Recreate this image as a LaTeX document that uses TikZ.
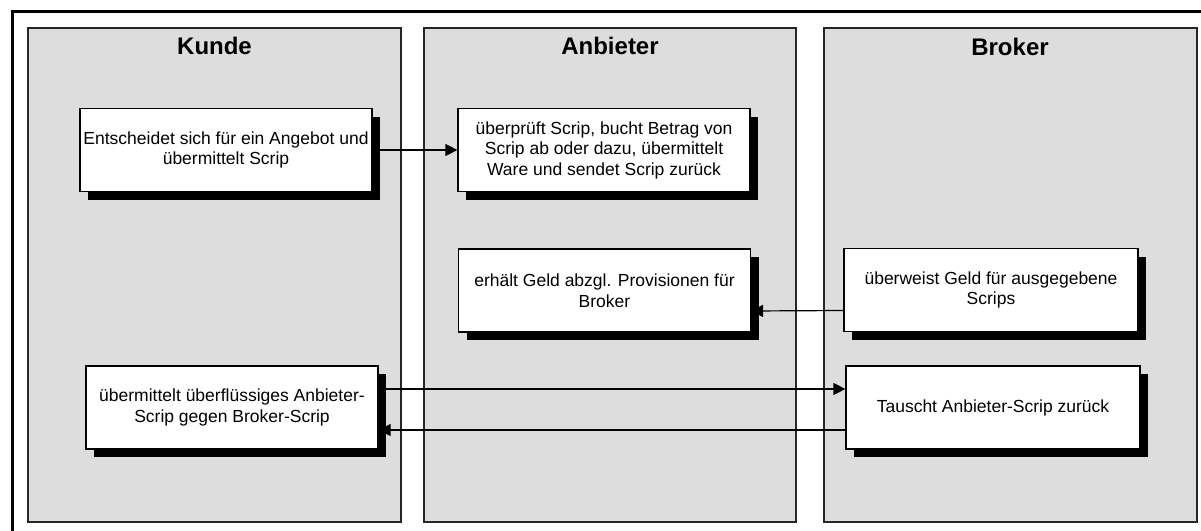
\documentclass[tikz,border=0pt]{standalone}
\usepackage{fontspec}
\setmainfont{Liberation Sans}
\usetikzlibrary{arrows.meta,shadows}
\definecolor{lanegray}{HTML}{DDDDDD}
\pgfdeclarelayer{lanes}
\pgfdeclarelayer{flows}
\pgfsetlayers{lanes,flows,main}
\begin{document}
\begin{tikzpicture}[x=1pt,y=-1pt,
  lane/.style={draw=black!85,line width=1.2pt,fill=lanegray},
  lanetitle/.style={font=\fontsize{24}{28}\selectfont\bfseries},
  task/.style={draw=black,line width=1.2pt,fill=white,inner sep=0pt,
    minimum width=292pt,minimum height=83pt,align=center,
    font=\fontsize{17.5}{20.5}\selectfont,
    general shadow={fill=black,shadow xshift=8pt,shadow yshift=-8pt}},
  flow/.style={line width=1.2pt,-{Triangle[length=12pt,width=12pt]}}]
\useasboundingbox (0,0) rectangle (1201,530);
\begin{pgfonlayer}{lanes}
\fill[white] (0,0) rectangle (1201,530);
% outer frame
\draw[line width=3pt] (12,532) -- (12,11) -- (1203,11);
% swim lanes
\draw[lane] (28,28) rectangle (401,522);
\draw[lane] (424,28) rectangle (796,522);
\draw[lane] (824,28) rectangle (1197,522);
\end{pgfonlayer}
\node[lanetitle] (tk) at (214.5,46) {Kunde};
\node[lanetitle] (ta) at (610,46) {Anbieter};
\node[lanetitle] (tb) at (1010,47) {Broker};
% tasks
\node[task] (k1) at (226,150) {Entscheidet sich für ein Angebot und\\übermittelt Scrip};
\node[task] (a1) at (604,150) {überprüft Scrip, bucht Betrag von\\Scrip ab oder dazu, übermittelt\\Ware und sendet Scrip zurück};
\node[task] (a2) at (604.5,290.5) {erhält Geld abzgl. Provisionen für\\Broker};
\node[task,minimum width=294pt] (b1) at (991,290) {überweist Geld für ausgegebene\\Scrips};
\node[task] (k2) at (232,407.5) {übermittelt überflüssiges Anbieter-\\Scrip gegen Broker-Scrip};
\node[task,minimum width=294pt] (b2) at (993,407.5) {Tauscht Anbieter-Scrip zurück};
% message flows, behind the task boxes and their shadows
\begin{pgfonlayer}{flows}
\draw[flow] (k1.east) -- (a1.west);
\draw[flow] ([yshift=18.5pt]k2.east) -- ([yshift=18.5pt]b2.west);
\draw[flow] ([yshift=-20.5pt]b1.west) -- ([yshift=-20.5pt]a2.east);
\draw[flow] ([yshift=-22.5pt]b2.west) -- ([yshift=-22.5pt]k2.east);
\end{pgfonlayer}
\end{tikzpicture}
\end{document}
